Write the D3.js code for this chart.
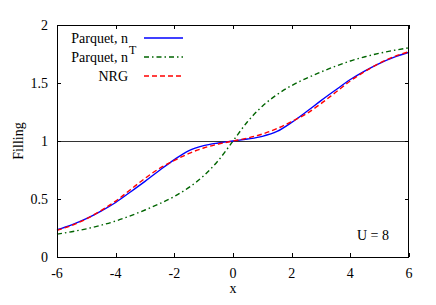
<!DOCTYPE html>
<html><head><meta charset="utf-8">
<script src="https://cdn.jsdelivr.net/npm/d3@7"></script>
<style>
body{margin:0;background:#fff;}
</style></head>
<body><svg id="c" width="436" height="305" font-family="'Liberation Serif', 'DejaVu Serif', serif" font-size="14"></svg>
<script>
const xs = [-6,-5.5,-5,-4.5,-4,-3.5,-3,-2.5,-2,-1.5,-1,-0.5,0,0.5,1,1.5,2,2.5,3,3.5,4,4.5,5,5.5,6];
const parquetN = [0.235,0.277,0.33,0.395,0.47,0.56,0.652,0.748,0.84,0.918,0.96,0.983,1.0,1.017,1.04,1.082,1.16,1.252,1.348,1.44,1.53,1.605,1.67,1.723,1.765];
const parquetNT = [0.197,0.218,0.243,0.274,0.31,0.355,0.405,0.46,0.522,0.60,0.70,0.832,1.0,1.168,1.30,1.40,1.478,1.54,1.595,1.645,1.69,1.726,1.757,1.782,1.803];
const nrg = [0.23,0.272,0.328,0.40,0.482,0.58,0.678,0.765,0.832,0.893,0.94,0.974,1.0,1.026,1.06,1.107,1.168,1.235,1.322,1.42,1.518,1.60,1.672,1.728,1.77];
const xTicks = [-6,-4,-2,0,2,4,6];
const yTicks = [0,0.5,1,1.5,2];

const svg = d3.select("#c");
const L=57, R=409, T=25, B=257;
const x = d3.scaleLinear().domain([-6,6]).range([L,R]);
const y = d3.scaleLinear().domain([0,2]).range([B,T]);

svg.append("line").attr("x1",L).attr("x2",R).attr("y1",Math.round(y(1))+0.5).attr("y2",Math.round(y(1))+0.5)
  .attr("stroke","#333").attr("stroke-width",1);

const line = d3.line().x((d,i)=>x(xs[i])).y(d=>y(d)).curve(d3.curveMonotoneX);
const series = [
  {data:parquetNT, color:"#006400", dash:"5,3,1.5,3", w:1.4},
  {data:parquetN, color:"#0000ff", dash:null, w:1.4},
  {data:nrg, color:"#ff0000", dash:"5,3", w:1.4}
];
series.forEach(s=>{
  const p = svg.append("path").attr("d",line(s.data)).attr("fill","none")
    .attr("stroke",s.color).attr("stroke-width",s.w);
  if(s.dash) p.attr("stroke-dasharray",s.dash);
});

svg.append("rect").attr("x",L+0.5).attr("y",T+0.5).attr("width",R-L-1).attr("height",B-T)
  .attr("fill","none").attr("stroke","#000").attr("stroke-width",1);

const tl=4;
xTicks.forEach(t=>{
  const px=Math.round(x(t))+0.5;
  svg.append("line").attr("x1",px).attr("x2",px).attr("y1",B).attr("y2",B-tl).attr("stroke","#000");
  svg.append("line").attr("x1",px).attr("x2",px).attr("y1",T).attr("y2",T+tl).attr("stroke","#000");
  svg.append("text").attr("x",x(t)).attr("y",278).attr("text-anchor","middle").text(t);
});
yTicks.forEach(t=>{
  const py=Math.round(y(t))+0.5;
  svg.append("line").attr("x1",L).attr("x2",L+tl).attr("y1",py).attr("y2",py).attr("stroke","#000");
  svg.append("line").attr("x1",R).attr("x2",R-tl).attr("y1",py).attr("y2",py).attr("stroke","#000");
  svg.append("text").attr("x",48).attr("y",y(t)+5).attr("text-anchor","end").text(t);
});

svg.append("text").attr("x",x(0)).attr("y",293).attr("text-anchor","middle").text("x");
svg.append("text").attr("transform","translate(23,"+y(1)+") rotate(-90)").attr("text-anchor","middle").text("Filling");

const leg = [
  {label:"Parquet, n", sup:null, s:series[1], yy:38},
  {label:"Parquet, n", sup:"T", s:series[0], yy:57},
  {label:"NRG", sup:null, s:series[2], yy:76}
];
leg.forEach(d=>{
  svg.append("text").attr("x",128).attr("y",d.yy+5).attr("text-anchor","end").text(d.label);
  if(d.sup){
    svg.append("text").attr("x",129).attr("y",d.yy-3).attr("font-size","12").text(d.sup);
  }
  const l = svg.append("line").attr("x1",144).attr("x2",183).attr("y1",d.yy).attr("y2",d.yy)
    .attr("stroke",d.s.color).attr("stroke-width",d.s.w);
  if(d.s.dash) l.attr("stroke-dasharray",d.s.dash);
});

svg.append("text").attr("x",389).attr("y",240).attr("text-anchor","end").text("U = 8");
</script></body></html>
